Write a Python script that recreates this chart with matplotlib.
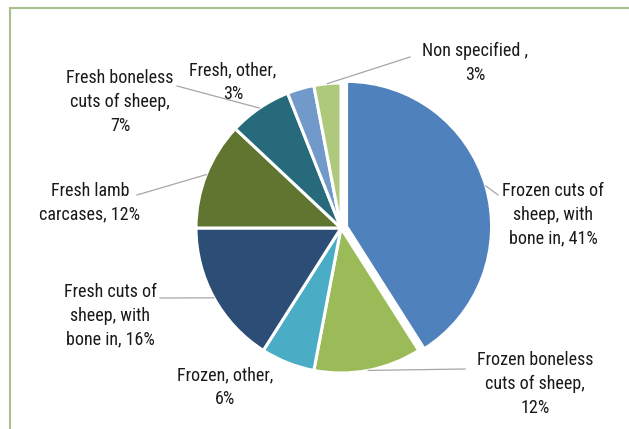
import matplotlib
matplotlib.use("Agg")
import matplotlib.pyplot as plt
import numpy as np

plt.rcParams['font.family'] = ['Roboto Condensed', 'DejaVu Sans']

categories = [
    "Frozen cuts of\nsheep, with\nbone in, 41%",
    "Frozen boneless\ncuts of sheep,\n12%",
    "Frozen, other,\n6%",
    "Fresh cuts of\nsheep, with\nbone in, 16%",
    "Fresh lamb\ncarcases, 12%",
    "Fresh boneless\ncuts of sheep,\n7%",
    "Fresh, other,\n3%",
    "Non specified ,\n3%",
]
shares = [41, 12, 6, 16, 12, 7, 3, 3]
colors = ["#4F81BD", "#9BBB59", "#4BACC6", "#2C4D75",
          "#5F7530", "#276A7C", "#7199C9", "#AFC97C"]
explode = [0.04, 0, 0, 0, 0, 0, 0, 0]

# label placement in figure pixels (centre of text block), and leader line end points
label_px = [(553, 215), (535, 384), (225, 387), (110, 316),
            (90, 203), (120, 102), (233, 82), (475, 63)]
leader_end_px = [(498, 195), (465, 369), None, (160, 298),
                 (137, 195), (177, 86), None, (410, 57)]

W, H = 629, 429
cx, cy, R = 341, 228, 145


def to_data(p):
    return ((p[0] - cx) / R, (cy - p[1]) / R)


fig = plt.figure(figsize=(W / 100, H / 100), dpi=100)
ax = fig.add_axes([0, 0, 1, 1])

wedges, _ = ax.pie(shares, colors=colors, startangle=90, counterclock=False,
                   explode=explode, radius=1,
                   wedgeprops=dict(edgecolor='white', linewidth=2.2))

ax.set_xlim(-cx / R, (W - cx) / R)
ax.set_ylim((cy - H) / R, cy / R)
ax.set_aspect('equal')
ax.axis('off')

for w, lab, pos, end in zip(wedges, categories, label_px, leader_end_px):
    mid = np.deg2rad((w.theta1 + w.theta2) / 2)
    tx, ty = to_data(pos)
    ax.text(tx, ty, lab, ha='center', va='center', fontsize=13,
            color='#1a1a1a', linespacing=1.4)
    if end is not None:
        ox, oy = w.center
        ex, ey = to_data(end)
        ax.plot([ox + np.cos(mid), ex], [oy + np.sin(mid), ey],
                color='#a6a6a6', lw=0.9)

# chart frame (left and top edges visible)
frame = '#a9bf8f'
fig.add_artist(plt.Line2D([10 / W, 10 / W], [0, 1 - 8 / H], color=frame, lw=1.5,
                          transform=fig.transFigure))
fig.add_artist(plt.Line2D([10 / W, 1], [1 - 8 / H, 1 - 8 / H], color=frame, lw=1.5,
                          transform=fig.transFigure))

fig.savefig('out.png', dpi=100)
